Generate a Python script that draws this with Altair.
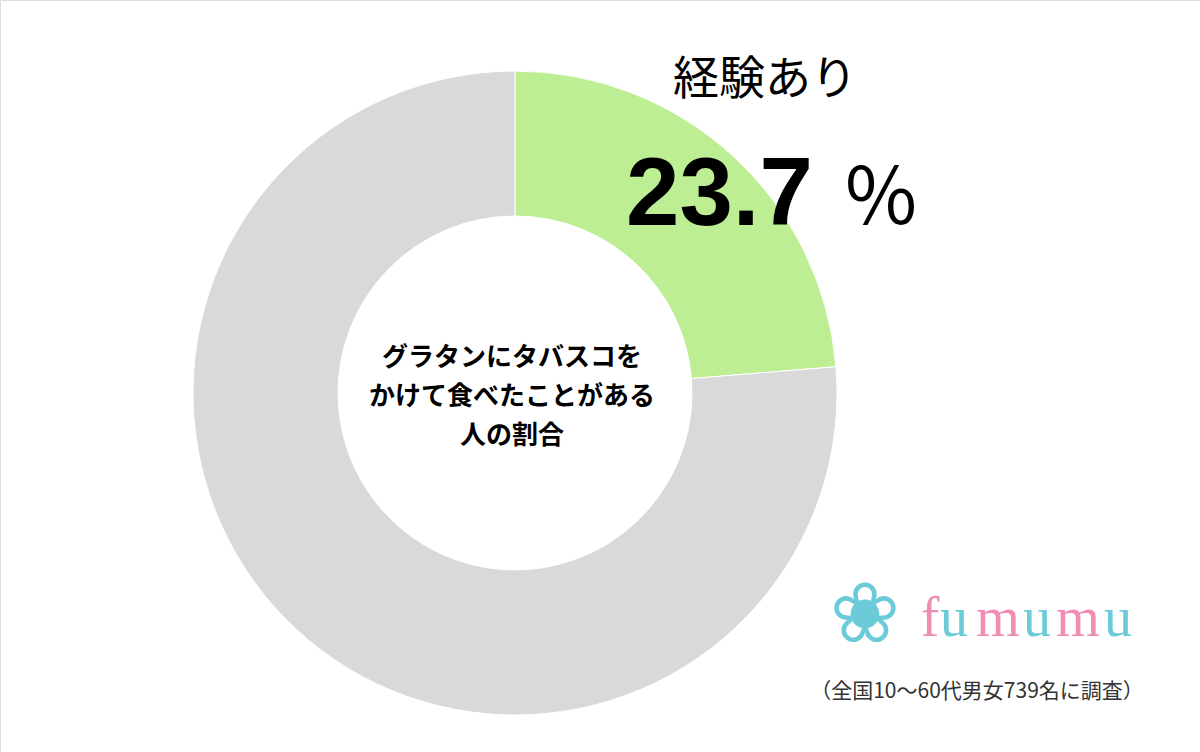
import altair as alt
import pandas as pd

categories = ["経験あり", "経験なし"]
values = [23.7, 76.3]
colors = ["#bdee94", "#d9d9d9"]
center_lines = ["グラタンにタバスコを", "かけて食べたことがある", "人の割合"]
brand_letters = ["f", "u", "m", "u", "m", "u"]
brand_colors = ["#f08db5", "#6ccbd9", "#f08db5", "#6ccbd9", "#f08db5", "#6ccbd9"]
note = "（全国10～60代男女739名に調査）"

df = pd.DataFrame({"category": categories, "value": values, "order": [0, 1]})

arc = alt.Chart(df).mark_arc(outerRadius=322, innerRadius=177, stroke="white", strokeWidth=1).encode(
    theta=alt.Theta("value:Q", stack=True),
    order=alt.Order("order:Q"),
    color=alt.Color("category:N", scale=alt.Scale(domain=categories, range=colors), legend=None),
    x=alt.value(515),
    y=alt.value(393),
)

def txt(text, x, y, size, font="Noto Sans CJK JP", weight="normal", color="#000000", align="center", baseline="middle"):
    return alt.Chart(pd.DataFrame({"t": [text]})).mark_text(
        font=font, fontSize=size, fontWeight=weight, color=color, align=align, baseline=baseline
    ).encode(text="t:N", x=alt.value(x), y=alt.value(y))

label = txt(categories[0], 765, 80, 46)
pct = txt(f"{values[0]}", 626, 225, 96, font="Liberation Sans", weight="bold", align="left", baseline="alphabetic")
pct_sign = txt("％", 842, 225, 78, align="left", baseline="alphabetic")

center = alt.Chart(pd.DataFrame({"t": [0]})).mark_text(
    font="Noto Sans CJK JP", fontSize=26, fontWeight="bold", color="#000000",
    align="center", baseline="middle", lineHeight=39,
).encode(text=alt.value(center_lines), x=alt.value(512), y=alt.value(358))

logo = txt("❀", 865, 617, 84, font="DejaVu Sans", color="#6ccbd9")

letter_x = [930, 954, 998, 1037, 1078, 1118]
brand_layers = [
    txt(ch, lx, 636, 56, font="Liberation Serif", color=c, baseline="alphabetic")
    for ch, lx, c in zip(brand_letters, letter_x, brand_colors)
]

note_t = txt(note, 977, 692, 21, color="#333333")

chart = alt.layer(arc, label, pct, pct_sign, center, logo, *brand_layers, note_t).properties(
    width=1200, height=752, padding=0, autosize=alt.AutoSizeParams(type="none")
).configure_view(stroke=None).configure(background="white")

chart.save("out.html", embed_options={"renderer": "svg", "actions": False})
